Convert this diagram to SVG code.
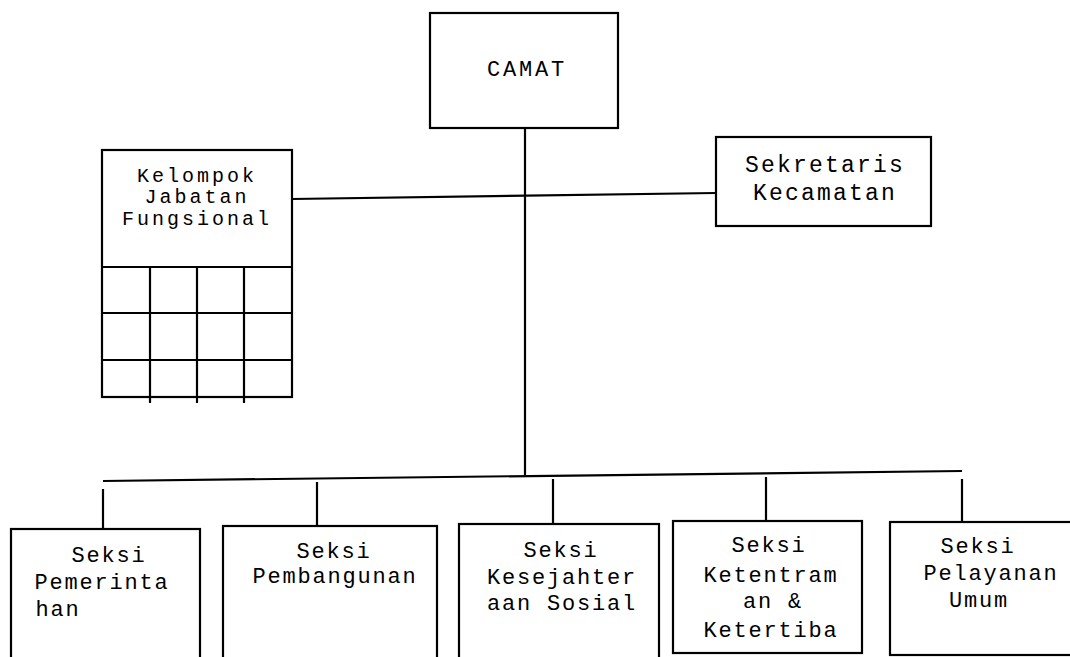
<svg xmlns="http://www.w3.org/2000/svg" width="1070" height="657" viewBox="0 0 1070 657">
<style>
.box{fill:#fff;stroke:#000;stroke-width:2.2}
.ln{stroke:#000;stroke-width:2.2;fill:none}
.t{font-family:"Liberation Mono","Courier New",monospace;font-size:22px;letter-spacing:1.8px;fill:#000;text-anchor:middle}
.s{font-size:20px;letter-spacing:3px}
.k{font-size:23px;letter-spacing:2.2px}
</style>
<rect width="1070" height="657" fill="#fff"/>
<g id="connectors">
<line class="ln" x1="525" y1="128" x2="525" y2="475"/>
<line class="ln" x1="292" y1="199" x2="716" y2="193"/>
<line class="ln" x1="103" y1="481" x2="962" y2="471"/>
<line class="ln" x1="103" y1="489" x2="103" y2="529"/>
<line class="ln" x1="317" y1="482" x2="317" y2="526"/>
<line class="ln" x1="553" y1="479" x2="553" y2="524"/>
<line class="ln" x1="766" y1="477" x2="766" y2="521"/>
<line class="ln" x1="962" y1="479" x2="962" y2="522"/>
</g>
<g id="camat">
<rect class="box" x="430" y="13" width="188" height="115"/>
<text class="t" x="527" y="76" style="letter-spacing:2.8px">CAMAT</text>
</g>
<g id="kelompok">
<rect class="box" x="102" y="150" width="190" height="247"/>
<line class="ln" x1="102" y1="267" x2="292" y2="267"/>
<line class="ln" x1="102" y1="313" x2="292" y2="313"/>
<line class="ln" x1="102" y1="360" x2="292" y2="360"/>
<line class="ln" x1="150" y1="267" x2="150" y2="403"/>
<line class="ln" x1="197" y1="267" x2="197" y2="403"/>
<line class="ln" x1="244" y1="267" x2="244" y2="403"/>
<text class="t s" x="197" y="182">Kelompok</text>
<text class="t s" x="197" y="203">Jabatan</text>
<text class="t s" x="197" y="225">Fungsional</text>
</g>
<g id="sekretaris">
<rect class="box" x="716" y="137" width="215" height="89"/>
<text class="t k" x="825" y="172">Sekretaris</text>
<text class="t k" x="825" y="200">Kecamatan</text>
</g>
<g id="pemerintahan">
<rect class="box" x="11" y="529" width="189" height="140"/>
<text class="t" x="109" y="562">Seksi</text>
<text class="t" x="102" y="589">Pemerinta</text>
<text class="t" x="58" y="616">han</text>
</g>
<g id="pembangunan">
<rect class="box" x="223" y="526" width="214" height="140"/>
<text class="t" x="334" y="558">Seksi</text>
<text class="t" x="335" y="583">Pembangunan</text>
</g>
<g id="kesejahteraan">
<rect class="box" x="459" y="524" width="200" height="140"/>
<text class="t" x="561" y="557">Seksi</text>
<text class="t" x="562" y="584">Kesejahter</text>
<text class="t" x="562" y="610">aan Sosial</text>
</g>
<g id="ketentraman">
<rect class="box" x="673" y="521" width="189" height="132"/>
<text class="t" x="769" y="552">Seksi</text>
<text class="t" x="771" y="582">Ketentram</text>
<text class="t" x="773" y="608">an &amp;</text>
<text class="t" x="771" y="637">Ketertiba</text>
</g>
<g id="pelayanan">
<rect class="box" x="890" y="522" width="190" height="133"/>
<text class="t" x="978" y="553">Seksi</text>
<text class="t" x="991" y="580">Pelayanan</text>
<text class="t" x="979" y="607">Umum</text>
</g>
</svg>
